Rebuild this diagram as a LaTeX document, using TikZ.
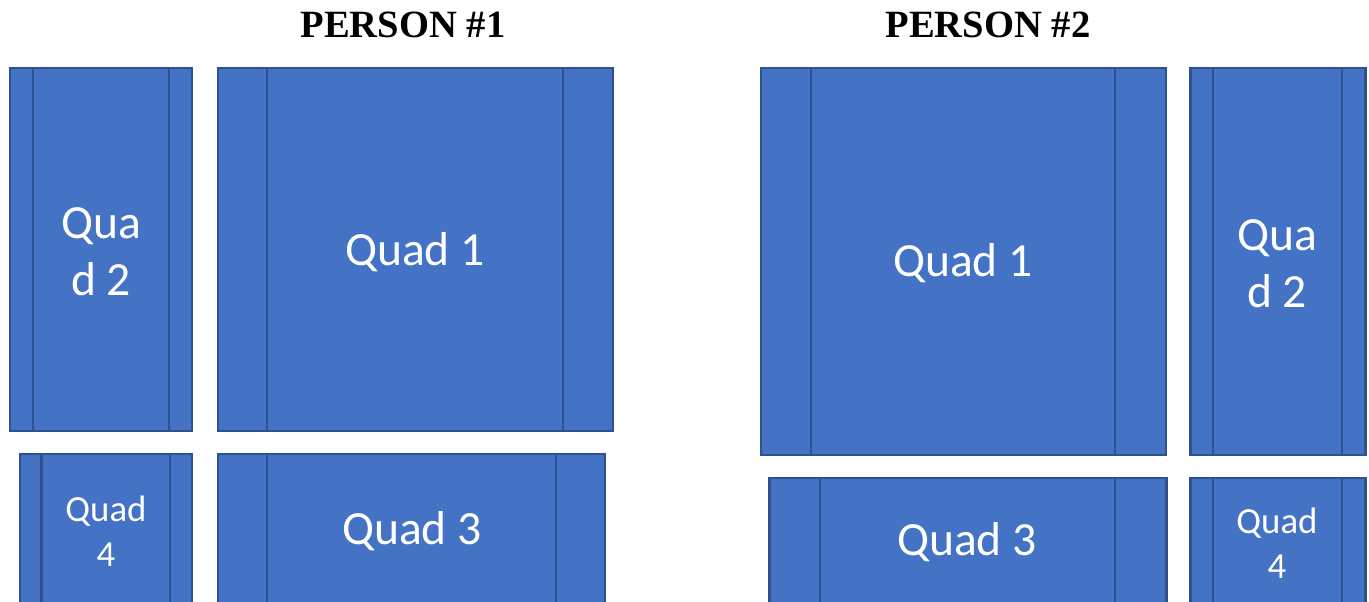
\documentclass[tikz,border=0pt]{standalone}
\usepackage{fontspec}
\setmainfont{Carlito}
\newfontfamily\titlefont{Liberation Serif}
\definecolor{qfill}{HTML}{4472C4}
\definecolor{qedge}{HTML}{2F528F}
\tikzset{
  qbox/.style={draw=qedge, fill=qfill, line width=2.4pt, anchor=north west, inner sep=0pt, outer sep=0pt},
  qline/.style={draw=qedge, line width=2.6pt},
  bigtxt/.style={text=white, font=\fontsize{47.6}{57}\selectfont, align=center, inner sep=0pt},
  smalltxt/.style={text=white, font=\fontsize{36.8}{45}\selectfont, align=center, inner sep=0pt},
  title/.style={font=\titlefont\bfseries\fontsize{38.6}{42}\selectfont, inner sep=0pt}
}
\begin{document}
\begin{tikzpicture}[x=1pt,y=-1pt]
\useasboundingbox (0,0) rectangle (1369,602);
\clip (0,0) rectangle (1369,602);
% titles
\node[title] (t1) at (403,25) {PERSON \#1};
\node[title] (t2) at (988,25) {PERSON \#2};
% ---- Person 1 ----
\node[qbox, minimum width=182pt, minimum height=363pt] (p1q2) at (10,68) {};
\draw[qline] (33,68) -- (33,431) (169,68) -- (169,431);
\node[bigtxt] (p1q2t) at (101,252) {Qua\\d 2};
\node[qbox, minimum width=395pt, minimum height=363pt] (p1q1) at (218,68) {};
\draw[qline] (267,68) -- (267,431) (563,68) -- (563,431);
\node[bigtxt] (p1q1t) at (415,252) {Quad 1};
\node[qbox, minimum width=172pt, minimum height=170pt] (p1q4) at (20,454) {};
\draw[qline] (41.5,454) -- (41.5,620) (170,454) -- (170,620);
\node[smalltxt] (p1q4t) at (106,531) {Quad\\4};
\node[qbox, minimum width=387pt, minimum height=170pt] (p1q3) at (218,454) {};
\draw[qline] (267,454) -- (267,620) (556,454) -- (556,620);
\node[bigtxt] (p1q3t) at (412,531) {Quad 3};
% ---- Person 2 ----
\node[qbox, minimum width=405pt, minimum height=387pt] (p2q1) at (761,68) {};
\draw[qline] (811,68) -- (811,455) (1115,68) -- (1115,455);
\node[bigtxt] (p2q1t) at (963,263) {Quad 1};
\node[qbox, minimum width=175pt, minimum height=387pt] (p2q2) at (1190.5,68) {};
\draw[qline] (1213,68) -- (1213,455) (1342,68) -- (1342,455);
\node[bigtxt] (p2q2t) at (1277,264) {Qua\\d 2};
\node[qbox, minimum width=397pt, minimum height=150pt] (p2q3) at (769.5,478) {};
\draw[qline] (820,478) -- (820,620) (1115,478) -- (1115,620);
\node[bigtxt] (p2q3t) at (967,542) {Quad 3};
\node[qbox, minimum width=175pt, minimum height=150pt] (p2q4) at (1190.5,478) {};
\draw[qline] (1213,478) -- (1213,620) (1342,478) -- (1342,620);
\node[smalltxt] (p2q4t) at (1277,543) {Quad\\4};
\end{tikzpicture}
\end{document}
